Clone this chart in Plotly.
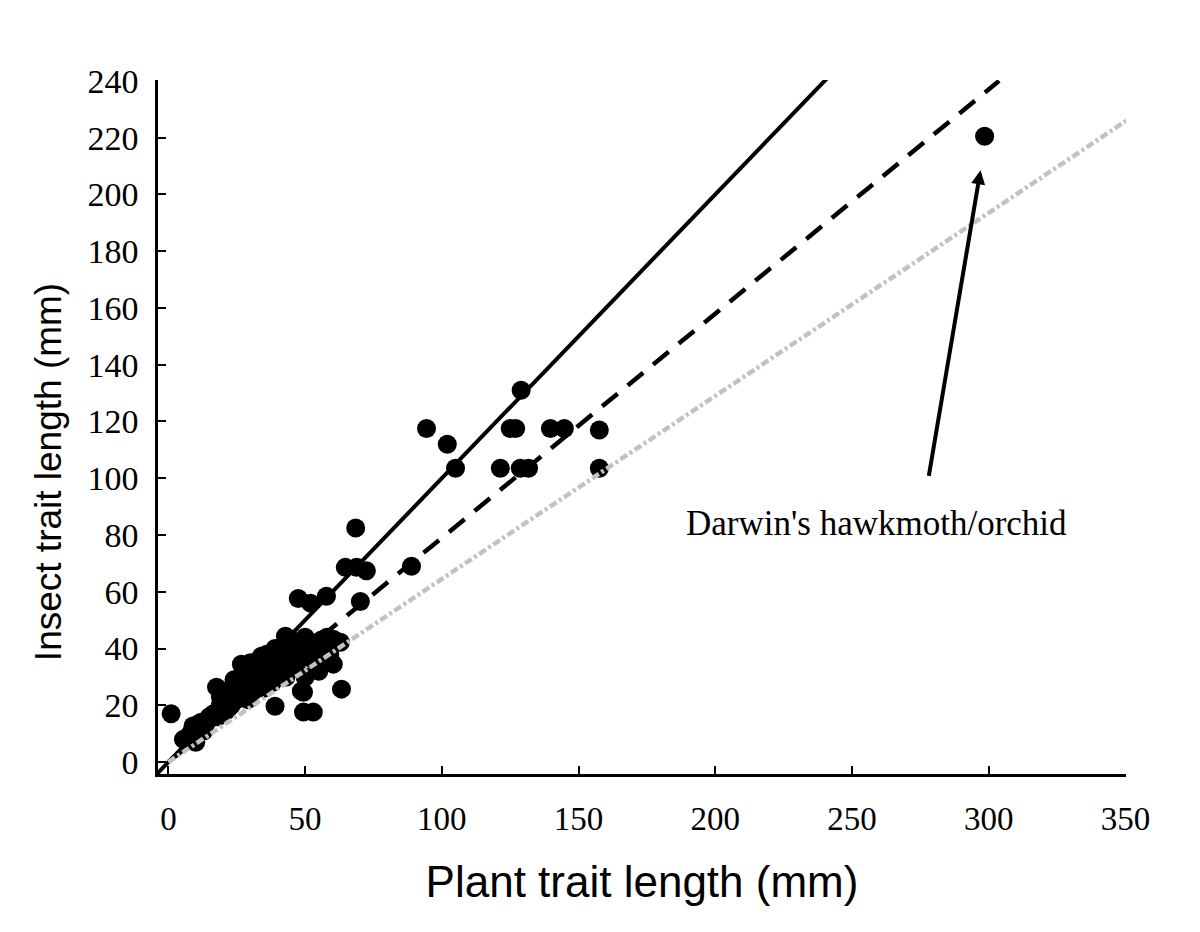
import plotly.graph_objects as go

# ---- data ----
plant_mm = [1, 5.5, 8, 9, 11, 12, 10, 14, 16.5, 17.6, 18, 19, 20, 21, 22, 23, 24, 25, 26, 26.7,
            27, 28, 29, 30, 31, 32, 33, 34, 35, 35, 36, 37, 38, 38, 39, 39, 40, 41, 42, 42.8,
            43, 44, 44, 45, 46, 47, 47.5, 48, 48.6, 49.4, 49.4, 50, 50, 52, 52, 53, 53, 54, 55, 57.8,
            58, 59, 60.3, 60.3, 61, 62.9, 63.3, 64.7, 68.5, 68.8, 70.2, 72.4, 88.9, 94.4, 102,
            105, 121.4, 125, 127, 128.7, 131.7, 129, 139.7, 144.8, 157.6, 157.6, 298.5,
            15, 19, 22, 24, 27, 29, 31, 33, 34, 36, 37, 39, 40, 41, 43, 45, 46, 47, 48, 51,
            54, 56, 13, 20, 25, 30, 36, 42]
insect_mm = [17, 8, 10, 12.7, 13.4, 14, 7, 14, 17, 26.4, 16, 20, 22, 18, 25, 20, 26, 22, 28, 34.5,
             24, 27, 22, 30, 25, 28, 31, 37.3, 26, 33, 30, 35, 32, 28, 19.7, 40, 36, 33, 38, 44.3,
             30, 42, 36, 40, 34, 42, 57.6, 38, 25, 17.6, 24.6, 44, 30, 42, 56, 36, 17.6, 40, 32, 58.4,
             44, 38, 43.3, 34.5, 42.6, 42.2, 25.7, 68.6, 82.5, 68.6, 56.6, 67.4, 69, 117.5, 112,
             103.5, 103.5, 117.5, 117.5, 103.5, 103.5, 131, 117.5, 117.5, 117, 103.5, 220.5,
             16, 23, 19, 29, 31, 26, 33, 27, 34, 36, 29, 35, 31, 39, 35, 43, 38, 35, 41, 38,
             36, 43, 11, 25, 27, 35, 38, 41]

solid_slope = 1.0      # solid black reference line
dashed_slope = 0.79    # dashed black fitted line
gray_slope = 0.645     # gray dotted line

x_ticks = [0, 50, 100, 150, 200, 250, 300, 350]
y_ticks = [0, 20, 40, 60, 80, 100, 120, 140, 160, 180, 200, 220, 240]

x_title = "Plant trait length (mm)"
y_title = "Insect trait length (mm)"
note_text = "Darwin's hawkmoth/orchid"
note_xy = [259, 84]
arrow_tail = [278, 100.3]
arrow_head = [297, 208.5]

# ---- figure ----
fig = go.Figure()

fig.add_trace(go.Scatter(
    x=plant_mm, y=insect_mm, mode="markers",
    marker=dict(color="black", size=19, line=dict(width=0)),
    showlegend=False, cliponaxis=False))

sx = [-6, 242]
fig.add_trace(go.Scatter(x=sx, y=[solid_slope * v for v in sx], mode="lines",
                         line=dict(color="black", width=4), showlegend=False))
dx = [0, 240 / dashed_slope]
fig.add_trace(go.Scatter(x=dx, y=[dashed_slope * v for v in dx], mode="lines",
                         line=dict(color="black", width=4.5, dash="20px,13px"), showlegend=False))
gx = [0, 352]
fig.add_trace(go.Scatter(x=gx, y=[gray_slope * v for v in gx], mode="lines",
                         line=dict(color="#c2c2c2", width=4.5, dash="8px,3px,3px,3px"),
                         showlegend=False))

serif = "Liberation Serif, Times New Roman, serif"
sans = "Liberation Sans Narrow, Arial Narrow, Liberation Sans, Arial, sans-serif"

fig.add_annotation(x=note_xy[0], y=note_xy[1], xref="x", yref="y", text=note_text,
                   showarrow=False, font=dict(family=serif, size=35, color="black"))
fig.add_annotation(x=arrow_head[0], y=arrow_head[1], ax=arrow_tail[0], ay=arrow_tail[1],
                   xref="x", yref="y", axref="x", ayref="y", text="",
                   showarrow=True, arrowhead=2, arrowsize=0.7, arrowwidth=4, arrowcolor="black")
fig.add_annotation(x=-0.1136, y=0.435, xref="paper", yref="paper",
                   xanchor="center", yanchor="middle", text=y_title, textangle=-90,
                   showarrow=False, font=dict(family=sans, size=37, color="black"))

fig.update_layout(
    width=1200, height=932,
    margin=dict(l=150, r=82, t=72, b=166, autoexpand=False),
    paper_bgcolor="white", plot_bgcolor="white",
    xaxis=dict(range=[-3.8, 350.2], tickvals=x_ticks, ticks="inside", ticklen=8, tickwidth=2,
               tickcolor="black", showline=True, linecolor="black", linewidth=2.5,
               showgrid=False, zeroline=False, ticklabelstandoff=14, automargin=False,
               tickfont=dict(family=serif, size=33, color="black"),
               title=dict(text=x_title, standoff=30,
                          font=dict(family=sans, size=44, color="black"))),
    yaxis=dict(range=[-4.2, 240.3], tickvals=y_ticks, ticks="inside", ticklen=8, tickwidth=2,
               tickcolor="black", showline=True, linecolor="black", linewidth=2.5,
               showgrid=False, zeroline=False, ticklabelstandoff=10, automargin=False,
               tickfont=dict(family=serif, size=34, color="black")),
)

fig.write_html("out.html")
